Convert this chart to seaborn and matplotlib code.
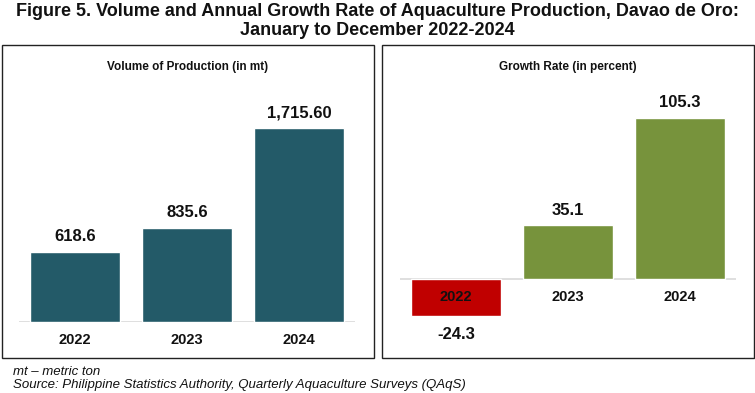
import matplotlib
matplotlib.use("Agg")
import matplotlib.pyplot as plt
import seaborn as sns
import pandas as pd
from matplotlib.patches import Rectangle

# ---- data ----
years = ["2022", "2023", "2024"]
volume = [618.6, 835.6, 1715.60]
volume_labels = ["618.6", "835.6", "1,715.60"]
growth = [-24.3, 35.1, 105.3]
growth_labels = ["-24.3", "35.1", "105.3"]

title = ("Figure 5. Volume and Annual Growth Rate of Aquaculture Production, Davao de Oro:\n"
         "January to December 2022-2024")
left_title = "Volume of Production (in mt)"
right_title = "Growth Rate (in percent)"
foot1 = "mt \u2013 metric ton"
foot2 = "Source: Philippine Statistics Authority, Quarterly Aquaculture Surveys (QAqS)"

sns.set_theme(style="white")
plt.rcParams['font.family'] = ['Liberation Sans', 'DejaVu Sans']

W, H = 755, 393
fig = plt.figure(figsize=(W / 100, H / 100), dpi=100)

def fr(x0, y_top, x1, y_bot):
    return [x0 / W, 1 - y_bot / H, (x1 - x0) / W, (y_bot - y_top) / H]

# panel boxes
for (x0, x1) in [(2, 374), (382, 754)]:
    fig.patches.append(Rectangle((x0 / W, 1 - 358 / H), (x1 - x0) / W, (358 - 45) / H,
                                 transform=fig.transFigure, fill=False,
                                 edgecolor="#222222", linewidth=1.0))

fig.text(0.5, 1 - 21 / H, title, ha="center", va="center", fontsize=13,
         fontweight="bold", linespacing=1.2, color="#111111")

# left panel
df_v = pd.DataFrame({"year": years, "value": volume})
axl = fig.add_axes(fr(19, 96, 355, 322))
sns.barplot(data=df_v, x="year", y="value", color="#235A68", saturation=1,
            width=0.8, ax=axl)
axl.set_ylim(0, 2000)
axl.set_xlim(-0.5, 2.5)

# right panel
df_g = pd.DataFrame({"year": years, "value": growth})
axr = fig.add_axes(fr(400, 80.2, 736, 340.2))
sns.barplot(data=df_g, x="year", y="value", hue="year",
            palette=["#C00000", "#77933C", "#77933C"], saturation=1,
            width=0.8, legend=False, ax=axr)
axr.set_ylim(-40, 130)
axr.set_xlim(-0.5, 2.5)

for ax, vals, labs in [(axl, volume, volume_labels), (axr, growth, growth_labels)]:
    for s in ax.spines.values():
        s.set_visible(False)
    ax.set_xticks([])
    ax.set_yticks([])
    ax.set_xlabel("")
    ax.set_ylabel("")
    ax.axhline(0, color="#D9D9D9", linewidth=1.2, zorder=0.5)
    for i, (v, lab) in enumerate(zip(vals, labs)):
        off = 11 if v >= 0 else -13
        ax.annotate(lab, xy=(i, v), xytext=(0, off), textcoords="offset points",
                    ha="center", va="center", fontsize=12, fontweight="bold",
                    color="#111111")
        ax.annotate(years[i], xy=(i, 0), xytext=(0, -13), textcoords="offset points",
                    ha="center", va="center", fontsize=10.5, fontweight="bold",
                    color="#111111")

fig.text(188 / W, 1 - 67 / H, left_title, ha="center", va="center", fontsize=8.5,
         fontweight="bold", color="#111111")
fig.text(568 / W, 1 - 67 / H, right_title, ha="center", va="center", fontsize=8.5,
         fontweight="bold", color="#111111")

fig.text(13 / W, 1 - 372 / H, foot1, ha="left", va="center", fontsize=9.5,
         style="italic", color="#111111")
fig.text(13 / W, 1 - 385 / H, foot2, ha="left", va="center", fontsize=9.5,
         style="italic", color="#111111")

fig.savefig("out.png", dpi=100)
